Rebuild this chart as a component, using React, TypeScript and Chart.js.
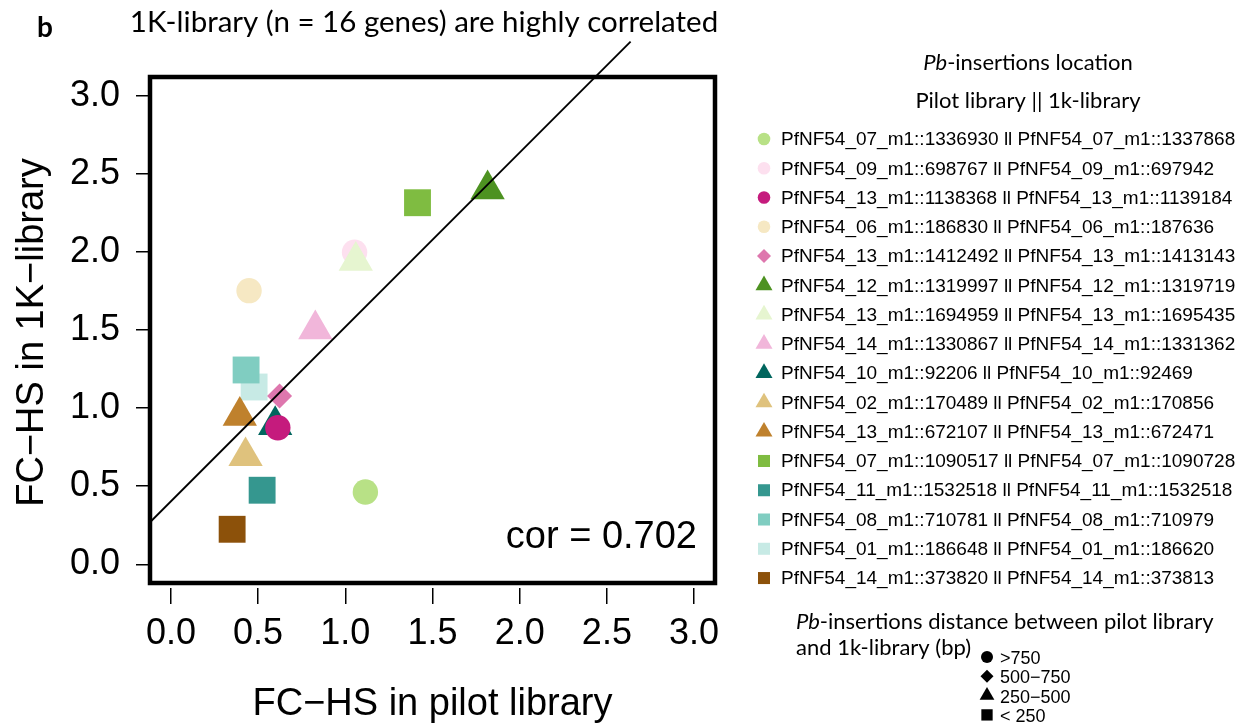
import { useEffect, useRef } from 'react';
import { Chart, registerables } from 'chart.js';
import { drawPoint } from 'chart.js/helpers';

Chart.register(...registerables);

// ---------- data ----------
const geneLabels = [
  'PfNF54_07_m1::1336930 ll PfNF54_07_m1::1337868',
  'PfNF54_09_m1::698767 ll PfNF54_09_m1::697942',
  'PfNF54_13_m1::1138368 ll PfNF54_13_m1::1139184',
  'PfNF54_06_m1::186830 ll PfNF54_06_m1::187636',
  'PfNF54_13_m1::1412492 ll PfNF54_13_m1::1413143',
  'PfNF54_12_m1::1319997 ll PfNF54_12_m1::1319719',
  'PfNF54_13_m1::1694959 ll PfNF54_13_m1::1695435',
  'PfNF54_14_m1::1330867 ll PfNF54_14_m1::1331362',
  'PfNF54_10_m1::92206 ll PfNF54_10_m1::92469',
  'PfNF54_02_m1::170489 ll PfNF54_02_m1::170856',
  'PfNF54_13_m1::672107 ll PfNF54_13_m1::672471',
  'PfNF54_07_m1::1090517 ll PfNF54_07_m1::1090728',
  'PfNF54_11_m1::1532518 ll PfNF54_11_m1::1532518',
  'PfNF54_08_m1::710781 ll PfNF54_08_m1::710979',
  'PfNF54_01_m1::186648 ll PfNF54_01_m1::186620',
  'PfNF54_14_m1::373820 ll PfNF54_14_m1::373813',
];
const pilotFC = [1.115, 1.053, 0.613, 0.448, 0.623, 1.816, 1.06, 0.828, 0.598, 0.428, 0.395, 1.414, 0.523, 0.431, 0.477, 0.351];
const oneKFC = [0.463, 1.998, 0.874, 1.752, 1.077, 2.401, 1.943, 1.504, 0.891, 0.692, 0.951, 2.315, 0.474, 1.244, 1.135, 0.224];
const geneColors = [
  '#b8e186', '#fde0ef', '#c51b7d', '#f6e8c3', '#de77ae', '#4d9221', '#e6f5d0', '#f1b6da',
  '#01665e', '#dfc27d', '#bf812d', '#7fbc41', '#35978f', '#80cdc1', '#c7eae5', '#8c510a',
];
const distanceBins = ['>750', '500\u2212750', '250\u2212500', '< 250'];
const geneBin = [0, 0, 0, 0, 1, 2, 2, 2, 2, 2, 2, 3, 3, 3, 3, 3];
const drawOrder = [15, 14, 13, 12, 11, 10, 9, 8, 7, 1, 6, 5, 4, 3, 2, 0];

const xTicks = [0, 0.5, 1, 1.5, 2, 2.5, 3];
const yTicks = [0, 0.5, 1, 1.5, 2, 2.5, 3];
const fitIntercept = 0.403;
const fitSlope = 1.1165;
const fitX = [-0.12, 2.636];
const corText = 'cor = 0.702';

const titleText = '1K-library (n = 16 genes) are highly correlated';
const panelLetter = 'b';
const xTitle = 'FC\u2212HS in pilot library';
const yTitle = 'FC\u2212HS in 1K\u2212library';
const legendTitle1 = ['Pb', '-insertions location'];
const legendTitle2 = 'Pilot library || 1k-library';
const shapeLegendLine1 = ['Pb', '-insertions distance between pilot library'];
const shapeLegendLine2 = 'and 1k-library (bp)';

// ---------- styles ----------
const binStyles = ['circle', 'rectRot', 'triangle', 'rect'];
const plotRadius = [12.7, 12.5, 19.8, 19];
const legendRadius = [6.3, 7, 9.8, 8.5];
const smallRadius = [6, 6.5, 8.5, 8];
const SANS = '"Liberation Sans", Arial, sans-serif';
const CAL = 'Lato, "Open Sans", sans-serif';

function drawMixed(ctx: CanvasRenderingContext2D, italicPart: string, rest: string, x: number, y: number, size: number, align: 'left' | 'center') {
  ctx.font = `italic ${size}px ${CAL}`;
  const w1 = ctx.measureText(italicPart).width;
  ctx.font = `${size}px ${CAL}`;
  const w2 = ctx.measureText(rest).width;
  const start = align === 'center' ? x - (w1 + w2) / 2 : x;
  ctx.textAlign = 'left';
  ctx.font = `italic ${size}px ${CAL}`;
  ctx.fillText(italicPart, start, y);
  ctx.font = `${size}px ${CAL}`;
  ctx.fillText(rest, start + w1, y);
}

const decorPlugin = {
  id: 'decor',
  beforeDatasetsDraw(chart: any) {
    const { ctx, scales } = chart;
    const x = scales.x, y = scales.y;
    const l = x.getPixelForValue(-0.12), r = x.getPixelForValue(3.12);
    const t = y.getPixelForValue(3.12), b = y.getPixelForValue(-0.12);
    ctx.save();
    ctx.strokeStyle = '#000';
    ctx.lineWidth = 4.5;
    ctx.lineJoin = 'miter';
    ctx.strokeRect(l, t, r - l, b - t);
    ctx.restore();
  },
  afterDraw(chart: any) {
    const { ctx, scales } = chart;
    const x = scales.x;
    ctx.save();
    ctx.fillStyle = '#000';
    ctx.textBaseline = 'middle';

    // cor text
    ctx.font = `38px ${SANS}`;
    ctx.textAlign = 'right';
    ctx.fillText(corText, x.getPixelForValue(3.12) - 18, 538);

    // title + panel letter
    ctx.font = `29.5px ${CAL}`;
    ctx.textAlign = 'center';
    ctx.fillText(titleText, 424, 22);
    ctx.font = `bold 28px ${CAL}`;
    ctx.textAlign = 'left';
    ctx.fillText(panelLetter, 37, 28);

    // gene legend
    drawMixed(ctx, legendTitle1[0], legendTitle1[1], 1028, 63, 22, 'center');
    ctx.font = `22px ${CAL}`;
    ctx.textAlign = 'center';
    ctx.fillText(legendTitle2, 1028, 101);

    geneLabels.forEach((lab, i) => {
      const yy = 139 + i * 29.27;
      const bin = geneBin[i];
      ctx.fillStyle = geneColors[i];
      drawPoint(ctx, { pointStyle: binStyles[bin], radius: legendRadius[bin], rotation: 0, borderWidth: 0 } as any, 764, yy);
      ctx.fillStyle = '#000';
      ctx.font = `19px ${SANS}`;
      ctx.textAlign = 'left';
      ctx.fillText(lab, 781, yy + 1);
    });

    // shape legend
    drawMixed(ctx, shapeLegendLine1[0], shapeLegendLine1[1], 796, 622, 22, 'left');
    ctx.font = `22px ${CAL}`;
    ctx.textAlign = 'left';
    ctx.fillText(shapeLegendLine2, 796, 648);
    distanceBins.forEach((lab, i) => {
      const yy = 657 + i * 19.3;
      ctx.fillStyle = '#000';
      drawPoint(ctx, { pointStyle: binStyles[i], radius: smallRadius[i], rotation: 0, borderWidth: 0 } as any, 987, yy);
      ctx.font = `18px ${SANS}`;
      ctx.textAlign = 'left';
      ctx.fillText(lab, 1000, yy + 2);
    });
    ctx.restore();
  },
};

export default function App() {
  const ref = useRef<HTMLCanvasElement | null>(null);
  useEffect(() => {
    if (!ref.current) return;
    const pts = drawOrder.map((i) => ({ x: pilotFC[i], y: oneKFC[i] }));
    const chart = new Chart(ref.current, {
      type: 'scatter',
      data: {
        datasets: [
          {
            data: fitX.map((v) => ({ x: v, y: fitIntercept + fitSlope * v })),
            showLine: true,
            borderColor: '#000',
            borderWidth: 1.8,
            pointRadius: 0,
            clip: false,
            order: 0,
            fill: false,
          } as any,
          {
            data: pts,
            pointStyle: drawOrder.map((i) => binStyles[geneBin[i]]),
            pointRadius: drawOrder.map((i) => plotRadius[geneBin[i]]),
            backgroundColor: drawOrder.map((i) => geneColors[i]),
            borderWidth: 0,
            clip: false,
            order: 1,
          } as any,
        ],
      },
      options: {
        responsive: false,
        animation: false,
        events: [],
        layout: { padding: { top: 77, right: 536, bottom: 0, left: 0 } },
        plugins: { legend: { display: false }, tooltip: { enabled: false } },
        scales: {
          x: {
            type: 'linear',
            min: -0.12,
            max: 3.12,
            afterBuildTicks: (s: any) => { s.ticks = xTicks.map((v) => ({ value: v })); },
            afterFit: (s: any) => { s.height = 136; },
            grid: { drawOnChartArea: false, drawTicks: true, tickLength: 16, color: '#000', lineWidth: 1.5 },
            border: { display: false },
            ticks: {
              font: { family: SANS, size: 36 },
              color: '#000',
              padding: 8,
              maxRotation: 0,
              autoSkip: false,
              callback: (v: any) => Number(v).toFixed(1),
            },
            title: { display: true, text: xTitle, color: '#000', font: { family: SANS, size: 38, lineHeight: 1.0 }, padding: { top: 0, bottom: 0 } },
          },
          y: {
            type: 'linear',
            min: -0.152,
            max: 3.12,
            afterBuildTicks: (s: any) => { s.ticks = yTicks.map((v) => ({ value: v })); },
            afterFit: (s: any) => { s.width = 150; },
            grid: { drawOnChartArea: false, drawTicks: true, tickLength: 14, color: '#000', lineWidth: 1.5 },
            border: { display: false },
            ticks: {
              font: { family: SANS, size: 36 },
              color: '#000',
              padding: 16,
              autoSkip: false,
              callback: (v: any) => Number(v).toFixed(1),
            },
            title: { display: true, text: yTitle, color: '#000', font: { family: SANS, size: 38 }, padding: { top: 10, bottom: 0 } },
          },
        },
      } as any,
      plugins: [decorPlugin],
    });
    return () => chart.destroy();
  }, []);
  return (
    <div style={{ position: 'fixed', left: 0, top: 0, width: 1251, height: 724, background: '#fff' }}>
      <canvas ref={ref} width={1251} height={724} />
    </div>
  );
}
